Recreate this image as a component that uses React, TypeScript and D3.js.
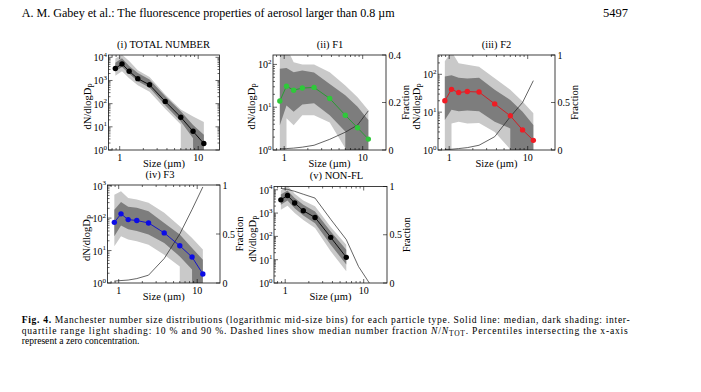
import * as d3 from 'd3';

// particle size bin centres (µm)
const sizes = [0.88, 1.07, 1.32, 1.7, 2.4, 3.8, 6.0, 8.6, 11.8];

// (i) total number
const totalMedian = [3300, 5200, 2500, 1200, 650, 125, 26, 6.4, 1.9];
const totalQ75 = [5900, 9100, 4200, 2100, 1100, 210, 47, 12, 4.5];
const totalQ25 = [2500, 3800, 1950, 930, 480, 85, 17, 3.2, 0];
const totalP90 = [8900, 13000, 7000, 2800, 1400, 250, 56, 28, 16];
const totalP10 = [1600, 2500, 1250, 630, 330, 60, 12.6, 0, 0];

// (ii) F1
const f1Median = [14, 31, 25, 28, 29, 16, 6.5, 3.3, 1.8];
const f1Q75 = [79, 83, 66, 72, 65, 35, 19, 10.2, 5];
const f1Q25 = [3.8, 11, 7.8, 11.5, 12.3, 6.5, 2.7, 0, 0];
const f1P90 = [180, 250, 112, 100, 100, 66, 32, 17, 8.5];
const f1P10 = [0, 5.5, 3.8, 6.5, 6.5, 4.4, 1.1, 0, 0];
const f1Fraction = [0.005, 0.006, 0.008, 0.012, 0.02, 0.045, 0.075, 0.105, 0.165];

// (iii) F2
const f2Median = [20, 40, 33, 35, 34, 16.5, 8, 3.4, 1.8];
const f2Q75 = [87, 95, 81, 78, 81, 39, 21, 10.2, 4.6];
const f2Q25 = [6.2, 11.5, 10.5, 11, 10.5, 5.6, 3.7, 0, 0];
const f2P90 = [220, 400, 195, 178, 158, 79, 39, 19, 9.3];
const f2P10 = [0, 5, 5.6, 5, 5.2, 3, 1.05, 0, 0];
const f2Fraction = [0.005, 0.008, 0.015, 0.025, 0.05, 0.14, 0.35, 0.5, 0.73];

// (iv) F3
const f3Median = [74, 135, 90, 84, 71, 35, 14, 6.3, 1.9];
const f3Q75 = [182, 316, 224, 209, 162, 71, 31, 12, 5.2];
const f3Q25 = [27.5, 59, 45, 40, 31, 17, 6.6, 2.6, 0];
const f3P90 = [525, 676, 417, 372, 295, 145, 56, 24.5, 10.7];
const f3P10 = [13.5, 27.5, 22, 19.5, 15, 7.4, 3.2, 0, 0];
const f3Fraction = [0.02, 0.025, 0.03, 0.045, 0.08, 0.25, 0.5, 0.75, 0.98];

// (v) NON-FL (first seven bins only)
const nflMedian = [3700, 5700, 2700, 1260, 650, 91, 12.6];
const nflQ75 = [6200, 9300, 4400, 2300, 1175, 162, 27];
const nflQ25 = [2300, 3500, 1600, 780, 370, 44, 6.2];
const nflP90 = [9300, 15000, 6800, 3500, 1950, 250, 44];
const nflP10 = [1380, 2040, 1000, 510, 230, 23, 3.2];
const nflFraction = [0.98, 0.97, 0.95, 0.92, 0.88, 0.66, 0.45, 0.17, 0.0];

const FONT = "'Liberation Serif', 'Times New Roman', serif";
const LIGHT = '#c9c9c9';
const DARK = '#7d7d7d';

interface PanelProps {
  title: string;
  titleX: number;
  left: number;
  top: number;
  width: number;
  height: number;
  yMaxExp: number;
  yDecades: number[];
  median: number[];
  q25: number[];
  q75: number[];
  p10: number[];
  p90: number[];
  fraction?: number[];
  fracMax?: number;
  fracTicks?: number[];
  color: string;
  markerColor: string;
  id: string;
}

const Panel = (p: PanelProps) => {
  const { left, top, width, height } = p;
  const right = left + width;
  const bottom = top + height;
  const xMin = 0.72;
  const pxPerDecade = 78.5;
  const xMax = Math.pow(10, Math.log10(xMin) + width / pxPerDecade);

  const x = d3.scaleLog().domain([xMin, xMax]).range([left, right]);
  const y = d3.scaleLog().domain([1, Math.pow(10, p.yMaxExp)]).range([bottom, top]);
  const yf = d3.scaleLinear().domain([0, p.fracMax ?? 1]).range([bottom, top]);

  const n = p.median.length;
  const line = d3.line<[number, number]>();

  // percentile band; zero values drop straight to the x-axis
  const band = (upper: number[], lower: number[]) => {
    const up: [number, number][] = upper.map((v, i) => [x(sizes[i]), y(v)]);
    const lo: [number, number][] = [];
    lower.forEach((v, i) => {
      const xi = x(sizes[i]);
      if (v > 0) {
        lo.push([xi, y(v)]);
        return;
      }
      if (i > 0 && lower[i - 1] > 0) lo.push([x(sizes[i - 1]), bottom + 1]);
      lo.push([xi, bottom + 1]);
      if (i < n - 1 && lower[i + 1] > 0) lo.push([x(sizes[i + 1]), bottom + 1]);
    });
    return line([...up, ...lo.reverse()]) + 'Z';
  };

  const medPts: [number, number][] = p.median.map((v, i) => [x(sizes[i]), y(v)]);

  const xMinor: number[] = [];
  [0.1, 1, 10].forEach((dec) => {
    for (let k = 2; k <= 9; k++) {
      const v = dec * k;
      if (v > xMin && v < xMax) xMinor.push(v);
    }
  });
  const yMinor: number[] = [];
  for (let e = 0; e < Math.ceil(p.yMaxExp); e++) {
    for (let k = 2; k <= 9; k++) {
      const v = Math.pow(10, e) * k;
      if (Math.log10(v) < p.yMaxExp) yMinor.push(v);
    }
  }
  const hasRight = !!p.fraction;

  return (
    <g fill="#000">
      <defs>
        <clipPath id={`clip-${p.id}`}>
          <rect x={left} y={top} width={width} height={height} />
        </clipPath>
      </defs>
      <g clipPath={`url(#clip-${p.id})`}>
        <path d={band(p.p90, p.p10)} fill={LIGHT} />
        <path d={band(p.q75, p.q25)} fill={DARK} />
        {p.fraction && (
          <path
            d={line(p.fraction.map((f, i) => [x(sizes[i]), yf(f)]))!}
            fill="none"
            stroke="#222"
            strokeWidth={0.7}
          />
        )}
        <path d={line(medPts)!} fill="none" stroke={p.color} strokeWidth={0.9} />
        {medPts.map(([cx, cy], i) => (
          <circle key={i} cx={cx} cy={cy} r={2.7} fill={p.markerColor} />
        ))}
      </g>

      {/* ticks */}
      <g stroke="#000" strokeWidth={0.6}>
        {[1, 10].map((v) => (
          <g key={v}>
            <line x1={x(v)} x2={x(v)} y1={bottom} y2={bottom - 4} />
            <line x1={x(v)} x2={x(v)} y1={top} y2={top + 4} />
          </g>
        ))}
        {xMinor.map((v) => (
          <g key={v}>
            <line x1={x(v)} x2={x(v)} y1={bottom} y2={bottom - 2} />
            <line x1={x(v)} x2={x(v)} y1={top} y2={top + 2} />
          </g>
        ))}
        {p.yDecades.map((e) => (
          <g key={e}>
            <line x1={left} x2={left + 4} y1={y(Math.pow(10, e))} y2={y(Math.pow(10, e))} />
            {!hasRight && (
              <line x1={right} x2={right - 4} y1={y(Math.pow(10, e))} y2={y(Math.pow(10, e))} />
            )}
          </g>
        ))}
        {yMinor.map((v) => (
          <g key={v}>
            <line x1={left} x2={left + 2} y1={y(v)} y2={y(v)} />
            {!hasRight && <line x1={right} x2={right - 2} y1={y(v)} y2={y(v)} />}
          </g>
        ))}
        {hasRight &&
          p.fracTicks!.map((t) => (
            <line key={t} x1={right} x2={right - 4} y1={yf(t)} y2={yf(t)} />
          ))}
      </g>
      <rect x={left} y={top} width={width} height={height} fill="none" stroke="#111" strokeWidth={0.8} />

      {/* tick labels */}
      {[1, 10].map((v) => (
        <text key={v} x={x(v)} y={bottom + 10.5} fontSize={10} textAnchor="middle">
          {v}
        </text>
      ))}
      {p.yDecades.map((e) => (
        <text key={e} x={left - 1.5} y={y(Math.pow(10, e)) + 4} fontSize={10} textAnchor="end">
          10<tspan dy={-4.5} fontSize={7}>{e}</tspan>
        </text>
      ))}
      {hasRight &&
        p.fracTicks!.map((t) => (
          <text key={t} x={right + 2.5} y={yf(t) + 3.5} fontSize={10}>
            {t}
          </text>
        ))}

      {/* titles and axis labels */}
      <text x={p.titleX} y={top - 7.5} fontSize={10.5} textAnchor="middle">
        {p.title}
      </text>
      <text x={(left + right) / 2} y={bottom + 16.8} fontSize={10.5} textAnchor="middle">
        Size (µm)
      </text>
      <text
        transform={`translate(${left - 18},${(top + bottom) / 2 + 4}) rotate(-90)`}
        fontSize={10.5}
        textAnchor="middle"
      >
        dN/dlogD<tspan dy={3} fontSize={7.5}>P</tspan>
      </text>
      {hasRight && (
        <text
          transform={`translate(${right + 23},${(top + bottom) / 2}) rotate(-90)`}
          fontSize={10.5}
          textAnchor="middle"
        >
          Fraction
        </text>
      )}
    </g>
  );
};

export default function App() {
  return (
    <svg
      width={701}
      height={392}
      style={{ position: 'absolute', left: 0, top: 0, background: '#fff', fontFamily: FONT }}
    >
      <rect width={701} height={392} fill="#fff" />
      <text x={21.7} y={16.5} fontSize={12.5} textLength={373} lengthAdjust="spacingAndGlyphs">
        A. M. Gabey et al.: The fluorescence properties of aerosol larger than 0.8 µm
      </text>
      <text x={603} y={16.5} fontSize={12.5}>
        5497
      </text>

      <Panel
        id="p1" title="(i) TOTAL NUMBER" titleX={163.5}
        left={108.5} top={55} width={111} height={95} yMaxExp={4.1} yDecades={[0, 1, 2, 3, 4]}
        median={totalMedian} q25={totalQ25} q75={totalQ75} p10={totalP10} p90={totalP90}
        color="#000" markerColor="#000"
      />
      <Panel
        id="p2" title="(ii) F1" titleX={330}
        left={273} top={55} width={113} height={95} yMaxExp={2.22} yDecades={[0, 1, 2]}
        median={f1Median} q25={f1Q25} q75={f1Q75} p10={f1P10} p90={f1P90}
        fraction={f1Fraction} fracMax={0.4} fracTicks={[0, 0.2, 0.4]}
        color="#1f9e2a" markerColor="#2fc83a"
      />
      <Panel
        id="p3" title="(iii) F2" titleX={496.5}
        left={438} top={55} width={117} height={95} yMaxExp={2.51} yDecades={[0, 1, 2]}
        median={f2Median} q25={f2Q25} q75={f2Q75} p10={f2P10} p90={f2P90}
        fraction={f2Fraction} fracMax={1} fracTicks={[0, 0.5, 1]}
        color="#d8141c" markerColor="#f01c24"
      />
      <Panel
        id="p4" title="(iv) F3" titleX={160}
        left={107.5} top={185} width={112.5} height={98} yMaxExp={3.02} yDecades={[0, 1, 2, 3]}
        median={f3Median} q25={f3Q25} q75={f3Q75} p10={f3P10} p90={f3P90}
        fraction={f3Fraction} fracMax={1} fracTicks={[0, 0.5, 1]}
        color="#0a0ad0" markerColor="#0c0ce6"
      />
      <Panel
        id="p5" title="(v) NON-FL" titleX={336.5}
        left={274} top={186.5} width={113} height={96.5} yMaxExp={4.14} yDecades={[0, 1, 2, 3, 4]}
        median={nflMedian} q25={nflQ25} q75={nflQ75} p10={nflP10} p90={nflP90}
        fraction={nflFraction} fracMax={1} fracTicks={[0, 0.5, 1]}
        color="#000" markerColor="#000"
      />

      <g fontSize={9.6}>
        <text x={21.7} y={322.5} textLength={608} lengthAdjust="spacing">
          <tspan fontWeight="bold">Fig. 4.</tspan>  Manchester number size distributions (logarithmic mid-size bins) for each particle type.  Solid line:  median, dark shading:  inter-
        </text>
        <text x={21.7} y={333.5} textLength={606} lengthAdjust="spacing">
          quartile range light shading:  10 % and 90 %.  Dashed lines show median number fraction{' '}
          <tspan fontStyle="italic">N</tspan>/<tspan fontStyle="italic">N</tspan>
          <tspan dy={2.5} fontSize={7.5}>TOT</tspan>
          <tspan dy={-2.5}>.  Percentiles intersecting the x-axis</tspan>
        </text>
        <text x={21.7} y={344}>
          represent a zero concentration.
        </text>
      </g>
    </svg>
  );
}
